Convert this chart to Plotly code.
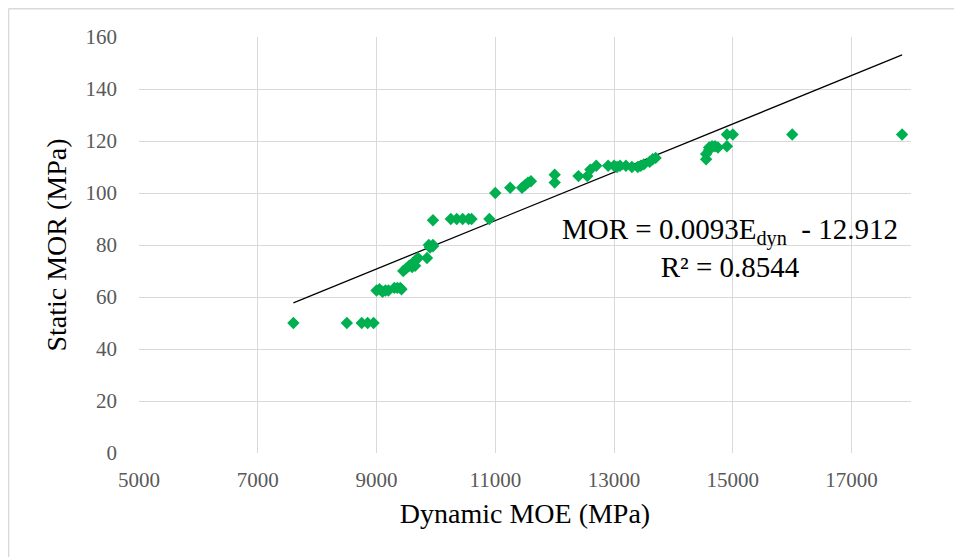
import plotly.graph_objects as go

# Data
dyn_moe = [7600, 8500, 8750, 8850, 8950,
           9000, 9050, 9100, 9150, 9200, 9300, 9350, 9400, 9420,
           9450, 9500, 9550, 9600, 9650, 9650, 9700, 9850,
           9880, 9900, 9950, 9950,
           9950, 10250, 10350, 10450, 10550, 10600, 10900,
           11000, 11250, 11450, 11500, 11550, 11600,
           12000, 12000, 12400, 12550, 12600, 12700,
           12900, 13000, 13050, 13100, 13200, 13300, 13400, 13450, 13500, 13600, 13650, 13700,
           14550, 14550, 14600, 14600, 14650, 14700, 14750, 14900, 14900, 15000, 16000, 17850]
static_mor = [50, 50, 50, 50, 50,
              62.5, 63, 62, 62.5, 62.5, 63.5, 63.5, 63.5, 63,
              70, 71, 72, 71.5, 72, 74, 75, 75,
              80, 79, 80, 79.5,
              89.5, 90, 90, 90, 90, 90, 90,
              100, 102, 102, 103, 104, 104.5,
              107, 104, 106.5, 106.5, 109, 110.5,
              110.5, 110.5, 110, 110.5, 110.5, 110, 110, 110.5, 111, 112, 113, 113.5,
              113, 115, 116.5, 117.5, 118, 118, 117.5, 118, 122.5, 122.5, 122.5, 122.5]

slope = 0.0093
intercept = -12.912
r_squared = 0.8544

x_ticks = [5000, 7000, 9000, 11000, 13000, 15000, 17000]
y_ticks = [0, 20, 40, 60, 80, 100, 120, 140, 160]

trend_x = [min(dyn_moe), max(dyn_moe)]
trend_y = [slope * v + intercept for v in trend_x]

serif = "Liberation Serif, Times New Roman, serif"

fig = go.Figure()
fig.add_trace(go.Scatter(
    x=trend_x, y=trend_y, mode="lines",
    line=dict(color="#000000", width=1.3), showlegend=False, hoverinfo="skip"))
fig.add_trace(go.Scatter(
    x=dyn_moe, y=static_mor, mode="markers",
    marker=dict(symbol="diamond", size=9.5, color="#00B050", line=dict(width=0)),
    showlegend=False))

border = dict(color="#D9D9D9", width=1.5)

fig.update_layout(
    width=954, height=549,
    margin=dict(l=131, r=51, t=29, b=104),
    paper_bgcolor="white", plot_bgcolor="white",
    font=dict(family=serif, color="#000000"),
    xaxis=dict(
        range=[5000, 18000], tickvals=x_ticks, ticktext=[str(v) for v in x_ticks],
        showgrid=True, gridcolor="#D9D9D9", gridwidth=1, zeroline=False,
        showline=False, ticks="", ticklabelstandoff=12,
        tickfont=dict(family=serif, size=21, color="#595959"),
        title=dict(text="Dynamic MOE (MPa)", font=dict(family=serif, size=28, color="#000000"), standoff=12),
    ),
    yaxis=dict(
        range=[0, 160], tickvals=y_ticks,
        showgrid=True, gridcolor="#D9D9D9", gridwidth=1, zeroline=False,
        showline=False, ticks="", ticklabelstandoff=21,
        tickfont=dict(family=serif, size=21, color="#595959"),
        title=dict(text="Static MOR (MPa)", font=dict(family=serif, size=28, color="#000000"), standoff=10),
    ),
    annotations=[dict(
        x=14950, y=79, xref="x", yref="y",
        text=f"MOR = {slope}E<sub>dyn</sub>  - {abs(intercept)}<br>R² = {r_squared}",
        showarrow=False, align="center",
        font=dict(family=serif, size=29, color="#000000"))],
    shapes=[dict(type="line", xref="paper", yref="paper",
                 x0=-0.169, x1=-0.169, y0=1.068, y1=-0.3, line=border),
            dict(type="line", xref="paper", yref="paper",
                 x0=-0.169, x1=1.057, y0=1.068, y1=1.068, line=border),
            dict(type="line", xref="paper", yref="paper",
                 x0=1.057, x1=1.057, y0=1.068, y1=-0.3, line=border)],
)

fig.write_html("out.html")
